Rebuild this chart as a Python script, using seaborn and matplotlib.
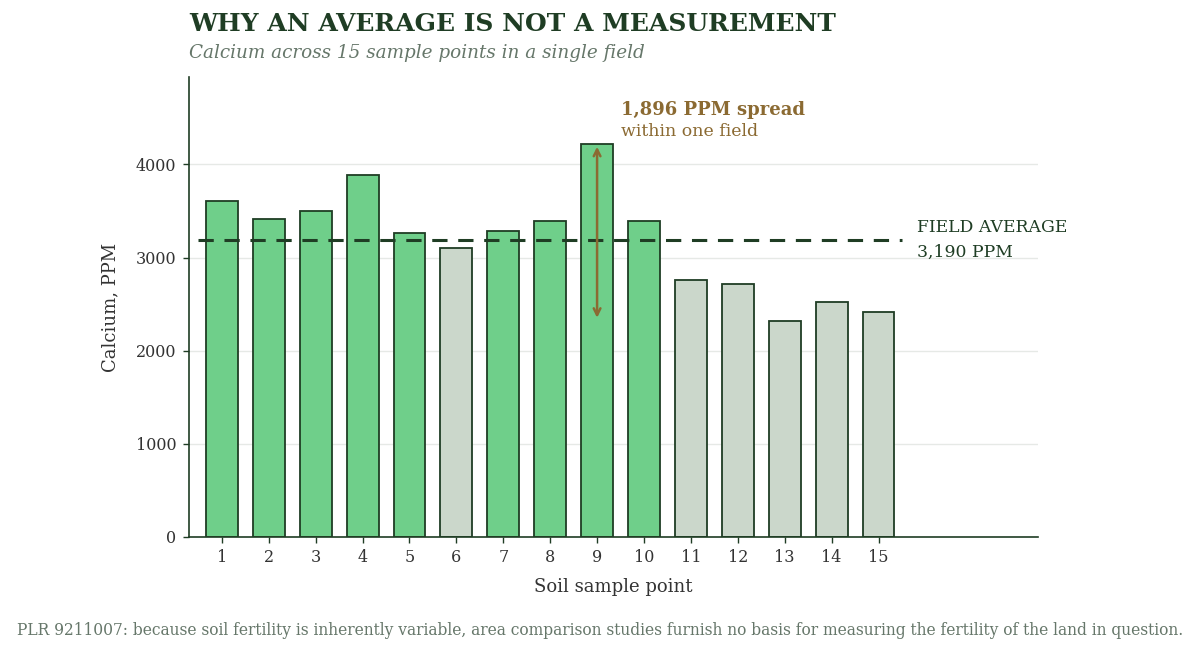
import numpy as np
import pandas as pd
import matplotlib
matplotlib.use("Agg")
import matplotlib.pyplot as plt
import seaborn as sns

# Valeurs
points = [str(i) for i in range(1, 16)]
calcium = [3610, 3410, 3500, 3890, 3260, 3100, 3290, 3390, 4220, 3390,
           2760, 2720, 2324, 2520, 2420]
moyenne = 3190
titre = "WHY AN AVERAGE IS NOT A MEASUREMENT"
sous_titre = "Calcium across 15 sample points in a single field"
note = ("PLR 9211007: because soil fertility is inherently variable, area comparison "
        "studies furnish no basis for measuring the fertility of the land in question.")

vert_fonce = "#1f3d24"
vert = "#6fcf8a"
gris = "#cbd7cb"
brun = "#8b6a32"
gris_texte = "#66776a"

sns.set_theme(style="white")
plt.rcParams["font.family"] = ["DejaVu Serif"]

df = pd.DataFrame({"point": points, "calcium": calcium})
df["groupe"] = np.where(df["calcium"] >= moyenne, "haut", "bas")

fig = plt.figure(figsize=(12, 6.52), dpi=100)
ax = fig.add_axes([0.1575, 0.1764, 0.7075, 0.7056])

sns.barplot(data=df, x="point", y="calcium", hue="groupe",
            palette={"haut": vert, "bas": gris}, dodge=False, width=0.68,
            saturation=1, edgecolor=vert_fonce, linewidth=1.3, legend=False, ax=ax)

ax.set_xlim(-0.7, 17.4)
ax.set_ylim(0, 4940)
ax.set_yticks([0, 1000, 2000, 3000, 4000])
ax.yaxis.grid(True, color="#e6e9e6", linewidth=1)
ax.set_axisbelow(True)
sns.despine(ax=ax)
for s in ["left", "bottom"]:
    ax.spines[s].set_color(vert_fonce)
    ax.spines[s].set_linewidth(1.2)
ax.tick_params(axis="both", colors=vert_fonce, labelcolor="#333333", labelsize=11.5,
               length=4, width=1, bottom=True, left=True, pad=5)

ax.set_xlabel("Soil sample point", fontsize=13, color="#333333", labelpad=8)
ax.set_ylabel("Calcium, PPM", fontsize=13, color="#333333", labelpad=12)

# moyenne
ax.hlines(moyenne, -0.5, 14.5, colors=vert_fonce, linestyles=(0, (5, 3.5)), linewidth=2.2)
ax.text(14.83, moyenne, "FIELD AVERAGE\n3,190 PPM", color=vert_fonce, fontsize=12.4,
        va="center", ha="left", linespacing=1.55)

# étendue
i_max = int(np.argmax(calcium))
ax.annotate("", xy=(i_max, min(calcium)), xytext=(i_max, max(calcium)),
            arrowprops=dict(arrowstyle="<->", color=brun, lw=1.8, shrinkA=2, shrinkB=2))
ax.text(i_max + 0.5, 4580, "1,896 PPM spread", color=brun, fontsize=13,
        fontweight="bold", va="center", ha="left")
ax.text(i_max + 0.5, 4355, "within one field", color=brun, fontsize=12.5,
        va="center", ha="left")

fig.text(0.1575, 0.963, titre, fontsize=18, fontweight="bold", color=vert_fonce,
         ha="left", va="center")
fig.text(0.1575, 0.918, sous_titre, fontsize=13.2, style="italic", color=gris_texte,
         ha="left", va="center")
fig.text(0.5, 0.033, note, fontsize=11.2, color=gris_texte, ha="center", va="center")

fig.savefig("out.png", dpi=100)
